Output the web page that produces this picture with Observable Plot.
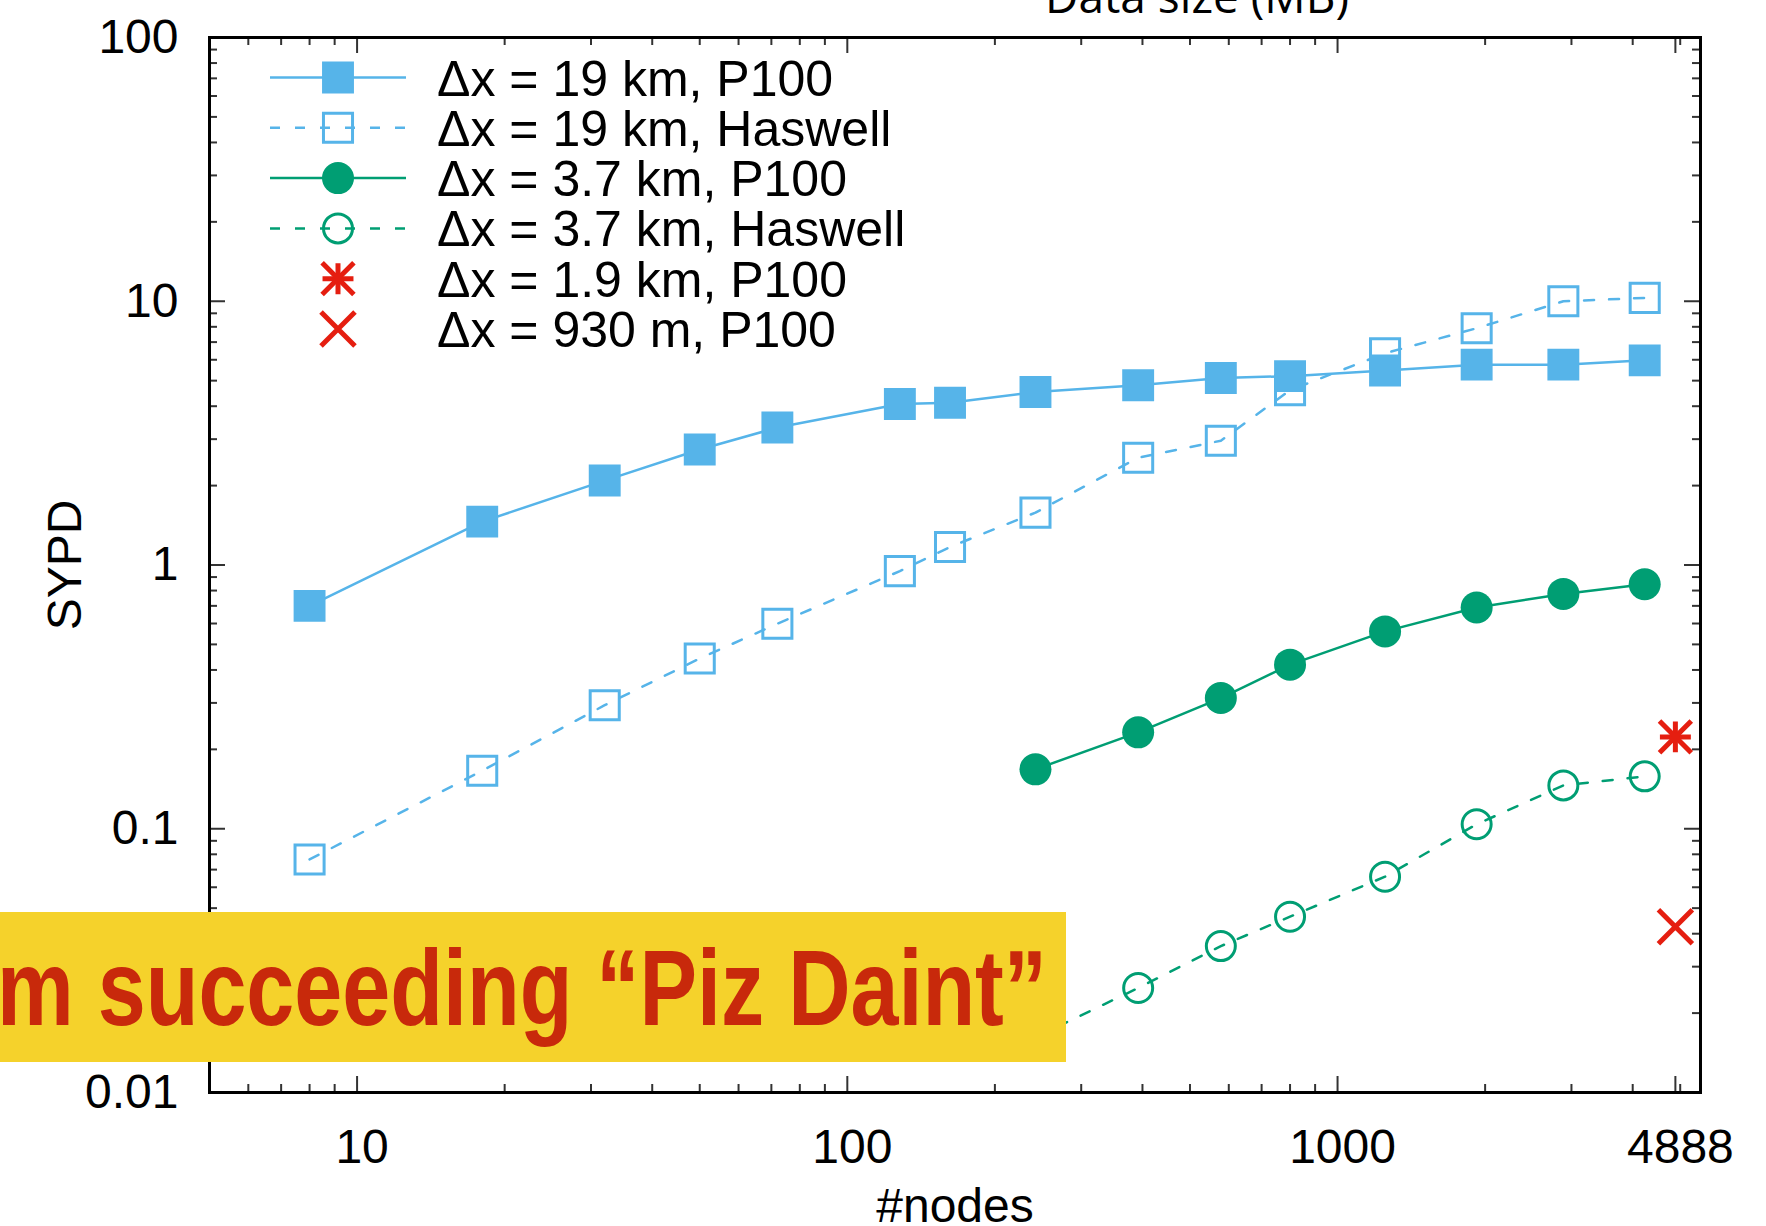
<!DOCTYPE html>
<html>
<head>
<meta charset="utf-8">
<script src="https://cdn.jsdelivr.net/npm/d3@7"></script>
<script src="https://cdn.jsdelivr.net/npm/@observablehq/plot@0.6"></script>
<style>
  html, body { margin: 0; padding: 0; background: #fff; }
  #chart { width: 1766px; height: 1226px; overflow: hidden; }
</style>
</head>
<body>
<div id="chart"></div>
<script>
// ---- data ----
const nodes19 = [8, 18, 32, 50, 72, 128, 162, 242, 392, 578, 800, 1250, 1922, 2888, 4232];
const sypd19P100 = [0.70, 1.46, 2.09, 2.74, 3.32, 4.08, 4.12, 4.53, 4.80, 5.12, 5.20, 5.46, 5.75, 5.75, 5.97];
const sypd19Haswell = [0.0765, 0.166, 0.294, 0.442, 0.599, 0.948, 1.17, 1.58, 2.55, 2.96, 4.6, 6.35, 7.9, 10.0, 10.3];
const nodes37P100 = [242, 392, 578, 800, 1250, 1922, 2888, 4232];
const sypd37P100 = [0.168, 0.232, 0.313, 0.419, 0.56, 0.69, 0.777, 0.845];
const nodes37Haswell = [242, 392, 578, 800, 1250, 1922, 2888, 4232];
const sypd37Haswell = [0.0162, 0.0249, 0.0359, 0.0464, 0.0658, 0.104, 0.146, 0.158];
const nodesFull = [4888];
const sypd1_9kmP100 = [0.223];
const sypd930mP100 = [0.0425];

const seriesNames = ["Δx = 19 km, P100", "Δx = 19 km, Haswell", "Δx = 3.7 km, P100", "Δx = 3.7 km, Haswell", "Δx = 1.9 km, P100", "Δx = 930 m, P100"];
const seriesColors = ["#56b4e9", "#56b4e9", "#009e73", "#009e73", "#e51e10", "#e51e10"];
const xTickValues = [10, 100, 1000, 4888];
const yTickValues = [0.01, 0.1, 1, 10, 100];
const xLabel = "#nodes";
const yLabel = "SYPD";
const topLabel = "Data size (MB)";
const bannerText = "m succeeding “Piz Daint”";

// ---- layout ----
const W = 1766, H = 1226, mL = 209, mR = 66, mT = 37, mB = 134;
const fw = W - mL - mR, fh = H - mT - mB;
const xDomain = [5, 5500], yDomain = [0.01, 100];

const minorBetween = (lo, hi) => {
  const out = [];
  for (let e = Math.floor(Math.log10(lo)); e <= Math.ceil(Math.log10(hi)); e++)
    for (let m = 2; m <= 9; m++) { const v = m * Math.pow(10, e); if (v > lo && v < hi) out.push(v); }
  return out;
};
const xMinor = minorBetween(xDomain[0], xDomain[1]);
const yMinor = minorBetween(yDomain[0], yDomain[1]);

const rows = (xs, ys) => xs.map((x, i) => ({x, y: ys[i]}));
const d19P = rows(nodes19, sypd19P100);
const d19H = rows(nodes19, sypd19Haswell);
const d37P = rows(nodes37P100, sypd37P100);
const d37H = rows(nodes37Haswell, sypd37Haswell);
const d19k = rows(nodesFull, sypd1_9kmP100);
const d930 = rows(nodesFull, sypd930mP100);

const tickStroke = "#333";
const dash = "10,15";
const redW = 5;

const plot = Plot.plot({
  width: W, height: H,
  marginLeft: mL, marginRight: mR, marginTop: mT, marginBottom: mB,
  style: {fontFamily: "'Liberation Sans', Helvetica, Arial, sans-serif", fontSize: "48px", background: "white", color: "black"},
  x: {type: "log", domain: xDomain, axis: null},
  y: {type: "log", domain: yDomain},
  marks: [
    // inward ticks on all four sides
    Plot.tickX(xTickValues, {x: d => d, insetTop: fh - 16, stroke: tickStroke, strokeWidth: 2}),
    Plot.tickX(xTickValues, {x: d => d, insetBottom: fh - 16, stroke: tickStroke, strokeWidth: 2}),
    Plot.tickX(xMinor, {x: d => d, insetTop: fh - 8, stroke: tickStroke, strokeWidth: 2}),
    Plot.tickX(xMinor, {x: d => d, insetBottom: fh - 8, stroke: tickStroke, strokeWidth: 2}),
    Plot.tickY(yTickValues, {y: d => d, insetRight: fw - 16, stroke: tickStroke, strokeWidth: 2}),
    Plot.tickY(yTickValues, {y: d => d, insetLeft: fw - 16, stroke: tickStroke, strokeWidth: 2}),
    Plot.tickY(yMinor, {y: d => d, insetRight: fw - 8, stroke: tickStroke, strokeWidth: 2}),
    Plot.tickY(yMinor, {y: d => d, insetLeft: fw - 8, stroke: tickStroke, strokeWidth: 2}),
    // tick labels
    Plot.text(xTickValues, {x: d => d, text: d => String(d), frameAnchor: "bottom", lineAnchor: "top", textAnchor: "middle", dy: 36, dx: 5, fontSize: 48, fill: "black"}),
    Plot.axisY({ticks: yTickValues, tickSize: 0, tickPadding: 31, tickFormat: d => String(d), label: null}),
    // series
    Plot.line(d19P, {x: "x", y: "y", stroke: seriesColors[0], strokeWidth: 2.5}),
    Plot.line(d19H, {x: "x", y: "y", stroke: seriesColors[1], strokeWidth: 2.5, strokeDasharray: dash}),
    Plot.line(d37P, {x: "x", y: "y", stroke: seriesColors[2], strokeWidth: 2.5}),
    Plot.line(d37H, {x: "x", y: "y", stroke: seriesColors[3], strokeWidth: 2.5, strokeDasharray: dash}),
    Plot.dot(d19H, {x: "x", y: "y", symbol: "square", r: 16.4, fill: "none", stroke: seriesColors[1], strokeWidth: 3}),
    Plot.dot(d19P, {x: "x", y: "y", symbol: "square", r: 18, fill: seriesColors[0], stroke: "none"}),
    Plot.dot(d37P, {x: "x", y: "y", symbol: "circle", r: 16, fill: seriesColors[2], stroke: "none"}),
    Plot.dot(d37H, {x: "x", y: "y", symbol: "circle", r: 14.5, fill: "none", stroke: seriesColors[3], strokeWidth: 3}),
    Plot.dot(d19k, {x: "x", y: "y", symbol: "plus", r: 10, fill: "none", stroke: seriesColors[4], strokeWidth: redW}),
    Plot.dot(d19k, {x: "x", y: "y", symbol: "times", r: 14.5, fill: "none", stroke: seriesColors[4], strokeWidth: redW}),
    Plot.dot(d930, {x: "x", y: "y", symbol: "times", r: 15.5, fill: "none", stroke: seriesColors[5], strokeWidth: redW}),
    Plot.frame({stroke: "black", strokeWidth: 3}),
    // axis titles
    Plot.text([yLabel], {frameAnchor: "left", dx: -144, rotate: -90, textAnchor: "middle", lineAnchor: "middle", fontSize: 48, fill: "black"}),
    Plot.text([xLabel], {frameAnchor: "bottom", dy: 114.6, textAnchor: "middle", lineAnchor: "middle", fontSize: 48, fill: "black"})
  ]
});

document.getElementById("chart").appendChild(plot);

const svg = d3.select(plot);

// top (cut-off) label
svg.append("text")
  .attr("x", 1197).attr("y", 13)
  .attr("text-anchor", "middle")
  .attr("font-size", 46)
  .attr("font-family", "'Open Sans', 'Liberation Sans', sans-serif")
  .attr("fill", "black")
  .text(topLabel);

// legend
const legendSpec = [
  {line: true, dash: null, sym: d3.symbolSquare, r: 18, filled: true},
  {line: true, dash: dash, sym: d3.symbolSquare, r: 16.4, filled: false},
  {line: true, dash: null, sym: d3.symbolCircle, r: 16, filled: true},
  {line: true, dash: dash, sym: d3.symbolCircle, r: 14.5, filled: false},
  {line: false, star: true},
  {line: false, sym: d3.symbolTimes, r: 15.5}
];
const lg = svg.append("g");
legendSpec.forEach((s, i) => {
  const y = 77.5 + i * 50.3;
  const c = seriesColors[i];
  if (s.line) {
    lg.append("line").attr("x1", 270).attr("x2", 406).attr("y1", y).attr("y2", y)
      .attr("stroke", c).attr("stroke-width", 2.5)
      .attr("stroke-dasharray", s.dash);
  }
  const addSym = (sym, r, filled, sw) => {
    lg.append("path")
      .attr("transform", `translate(338,${y})`)
      .attr("d", d3.symbol(sym, r * r * Math.PI)())
      .attr("fill", filled ? c : "none")
      .attr("stroke", filled ? "none" : c)
      .attr("stroke-width", sw);
  };
  if (s.star) {
    addSym(d3.symbolPlus, 10, false, redW);
    addSym(d3.symbolTimes, 14.5, false, redW);
  } else if (s.sym === d3.symbolTimes) {
    addSym(s.sym, s.r, false, redW);
  } else {
    addSym(s.sym, s.r, s.filled, 3);
  }
  lg.append("text").attr("x", 437).attr("y", y + 18)
    .attr("text-anchor", "start")
    .attr("font-size", 50).attr("fill", "black")
    .text(seriesNames[i]);
});

// overlay banner
const bn = svg.append("g");
bn.append("rect").attr("x", 0).attr("y", 912).attr("width", 1066).attr("height", 150).attr("fill", "#f5d22b");
bn.append("text")
  .attr("x", -3).attr("y", 1025)
  .attr("text-anchor", "start")
  .attr("font-family", "'Liberation Sans Narrow', 'Liberation Sans', Arial, sans-serif")
  .attr("font-weight", "bold")
  .attr("font-size", 108)
  .attr("fill", "#c8290b")
  .attr("textLength", 1050)
  .attr("lengthAdjust", "spacingAndGlyphs")
  .text(bannerText);
</script>
</body>
</html>
